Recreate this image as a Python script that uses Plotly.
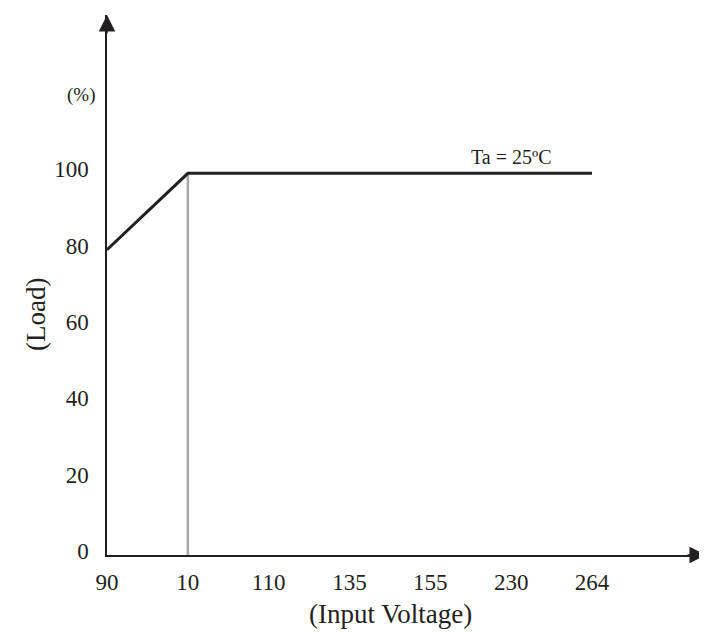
import plotly.graph_objects as go

# Data
voltage = ["90", "10", "110", "135", "155", "230", "264"]
load = [80, 100, 100, 100, 100, 100, 100]
y_ticks = [0, 20, 40, 60, 80, 100]
y_labels = ["0", "20", "40", "60", "80", "100"]
knee_voltage = "10"
knee_load = 100
curve_label = "Ta = 25ºC"

DARK = "#231f20"
GRAY = "#a7a9ac"
SERIF = "Liberation Serif, Times New Roman, serif"

fig = go.Figure()

# gray vertical marker at the knee
fig.add_trace(go.Scatter(
    x=[knee_voltage, knee_voltage], y=[0, knee_load],
    mode="lines", line=dict(color=GRAY, width=2.5),
    hoverinfo="skip", showlegend=False,
))

# derating curve
fig.add_trace(go.Scatter(
    x=voltage, y=load, mode="lines",
    line=dict(color=DARK, width=3),
    showlegend=False,
))

W, H = 707, 633
ml, mr, mt, mb = 99, 9, 7, 86

fig.update_layout(
    width=W, height=H,
    margin=dict(l=ml, r=mr, t=mt, b=mb),
    paper_bgcolor="white", plot_bgcolor="white",
    font=dict(family=SERIF, color=DARK, size=21),
    xaxis=dict(
        type="category", categoryorder="array", categoryarray=voltage,
        range=[0, 7.41], showgrid=False, zeroline=False,
        showline=True, linecolor=DARK, linewidth=1.5,
        ticks="", ticklabelstandoff=6,
        tickfont=dict(family=SERIF, size=23, color=DARK),
        fixedrange=True,
    ),
    yaxis=dict(
        range=[0, 141.5], showgrid=False, zeroline=False,
        showline=True, linecolor=DARK, linewidth=1.5,
        tickvals=y_ticks, ticktext=y_labels,
        ticks="", ticklabelstandoff=12, ticklabelshift=-4,
        tickfont=dict(family=SERIF, size=23, color=DARK),
        fixedrange=True,
    ),
    annotations=[
        # arrowheads on the axes
        dict(xref="paper", yref="paper", x=1, y=0, ax=-20, ay=0,
             axref="pixel", ayref="pixel", text="", showarrow=True,
             arrowhead=2, arrowsize=2.2, arrowwidth=1.5, arrowcolor=DARK),
        dict(xref="paper", yref="paper", x=0, y=1, ax=0, ay=20,
             axref="pixel", ayref="pixel", text="", showarrow=True,
             arrowhead=2, arrowsize=2.2, arrowwidth=1.5, arrowcolor=DARK),
        # unit label
        dict(xref="paper", yref="paper", x=0, y=(547 - 87) / 540,
             xshift=-26, text="(%)", showarrow=False,
             font=dict(family=SERIF, size=19, color=DARK),
             xanchor="center", yanchor="middle"),
        # y title
        dict(xref="paper", yref="paper", x=0, y=(547 - 307) / 540,
             xshift=-71, text="(Load)", textangle=-90, showarrow=False,
             font=dict(family=SERIF, size=27, color=DARK),
             xanchor="center", yanchor="middle"),
        # x title
        dict(xref="paper", yref="paper", x=(382 - 99) / 599, y=0,
             yshift=-59, text="(Input Voltage)", showarrow=False,
             font=dict(family=SERIF, size=27, color=DARK),
             xanchor="center", yanchor="middle"),
        # curve label (category index 5 = "230")
        dict(xref="x", yref="y", x=5, y=knee_load,
             text=curve_label, showarrow=False, yshift=3,
             font=dict(family=SERIF, size=20, color=DARK),
             xanchor="center", yanchor="bottom"),
    ],
)

fig.write_html("out.html")
